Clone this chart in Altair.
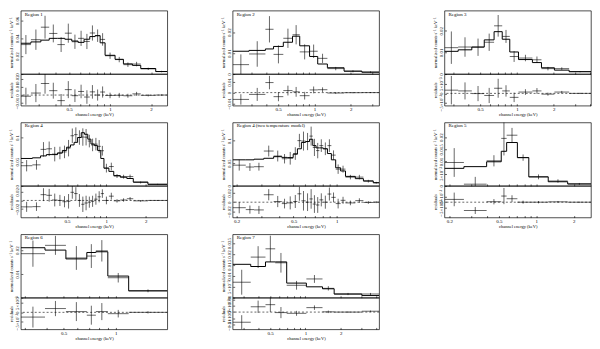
import altair as alt
import pandas as pd

FONT = "Liberation Serif"

titles = ["Region 1", "Region 2", "Region 3", "Region 4",
          "Region 4 (two temperature model)", "Region 5", "Region 6", "Region 7"]

# ---- Region 1 ----
r1_edges = [0.221, 0.262, 0.310, 0.357, 0.410, 0.465, 0.523, 0.582, 0.644, 0.709,
            0.776, 0.845, 0.919, 1.088, 1.253, 1.459, 1.68, 2.165, 2.636]
r1_counts = [0.033, 0.0385, 0.0525, 0.0455, 0.033, 0.0458, 0.0362, 0.040, 0.0365,
             0.046, 0.043, 0.0388, 0.0205, 0.0162, 0.0105, 0.0112, 0.0058, 0.0028]
r1_err = [0.0107, 0.0114, 0.0128, 0.01, 0.0083, 0.0107, 0.008, 0.0085, 0.0085,
          0.0085, 0.007, 0.007, 0.0035, 0.003, 0.0025, 0.0025, 0.0013, 0.0008]
r1_model = [0.0345, 0.036, 0.038, 0.040, 0.040, 0.039, 0.037, 0.0355, 0.039,
            0.042, 0.043, 0.035, 0.021, 0.0165, 0.0114, 0.0097, 0.0062, 0.0028]
r1_xdom = [0.221, 2.636]
r1_ydom = [0, 0.071]
r1_rdom = [-0.0134, 0.0264]
r1_yticks = [0, 0.02, 0.04, 0.06]
r1_rticks = [-0.01, 0, 0.01, 0.02]

# ---- Region 2 ----
r2_edges = [0.21, 0.287, 0.392, 0.458, 0.552, 0.658, 0.755, 0.911, 1.064, 1.28, 1.76, 2.47, 3.44]
r2_counts = [0.0045, 0.0096, 0.0214, 0.0094, 0.0171, 0.0188, 0.0106, 0.0109, 0.0075, 0.0026, 0.0013, 0.0009]
r2_err = [0.0049, 0.0061, 0.0063, 0.0043, 0.0046, 0.0046, 0.0036, 0.0032, 0.0022, 0.0008, 0.0005, 0.0004]
r2_model = [0.0109, 0.0113, 0.012, 0.0132, 0.0152, 0.0181, 0.0135, 0.0084, 0.0048, 0.003, 0.0014, 0.0009]
r2_xdom = [0.21, 3.44]
r2_ydom = [0, 0.0303]
r2_rdom = [-0.0123, 0.0174]
r2_yticks = [0, 0.01, 0.02]
r2_rticks = [-0.01, 0, 0.01]

# ---- Region 3 ----
r3_edges = [0.255, 0.33, 0.427, 0.540, 0.650, 0.758, 0.874, 1.03, 1.34, 1.59, 2.03, 2.68, 4.05]
r3_counts = [0.0122, 0.0125, 0.0124, 0.0147, 0.0223, 0.0174, 0.0081, 0.0074, 0.0066, 0.0025, 0.0025, 0.0011]
r3_err = [0.0075, 0.0045, 0.004, 0.004, 0.005, 0.003, 0.0025, 0.0015, 0.0015, 0.0008, 0.0006, 0.0003]
r3_model = [0.0105, 0.0112, 0.0125, 0.0158, 0.0196, 0.0161, 0.0102, 0.0067, 0.0053, 0.0029, 0.0018, 0.0011]
r3_xdom = [0.255, 4.05]
r3_ydom = [0, 0.0293]
r3_rdom = [-0.0065, 0.0102]
r3_yticks = [0, 0.01, 0.02]
r3_rticks = [-0.005, 0, 0.005]

# ---- Region 4 ----
r4_edges = [0.222, 0.272, 0.314, 0.348, 0.384, 0.423, 0.461, 0.497, 0.532, 0.567, 0.603,
            0.643, 0.680, 0.721, 0.763, 0.808, 0.857, 0.907, 0.959, 1.046, 1.14, 1.279,
            1.435, 1.608, 2.08, 2.93]
r4_counts = [0.0417, 0.0435, 0.0755, 0.0767, 0.0657, 0.068, 0.0703, 0.078, 0.1037, 0.106,
             0.1, 0.101, 0.1007, 0.0927, 0.0847, 0.0863, 0.0818, 0.0727, 0.0367, 0.04,
             0.0203, 0.019, 0.0193, 0.007, 0.0033]
r4_err = [0.0117, 0.01, 0.015, 0.015, 0.015, 0.013, 0.013, 0.017, 0.015, 0.015, 0.015,
          0.018, 0.017, 0.013, 0.013, 0.013, 0.013, 0.01, 0.009, 0.008, 0.004, 0.004,
          0.004, 0.002, 0.001]
r4_model = [0.0567, 0.058, 0.062, 0.0647, 0.0647, 0.068, 0.0733, 0.08, 0.0847, 0.09, 0.1,
            0.11, 0.1067, 0.0967, 0.0867, 0.0833, 0.0733, 0.0567, 0.0367, 0.03, 0.0213,
            0.018, 0.0153, 0.008, 0.0033]
r4_xdom = [0.222, 2.93]
r4_ydom = [0, 0.131]
r4_rdom = [-0.04, 0.034]
r4_yticks = [0, 0.05, 0.1]
r4_rticks = [-0.02, 0, 0.02]

# ---- Region 4 (two temperature model) ----
r4b_edges = [0.188, 0.232, 0.265, 0.310, 0.363, 0.414, 0.452, 0.497, 0.532, 0.567, 0.607,
             0.646, 0.681, 0.718, 0.757, 0.806, 0.862, 0.918, 0.984, 1.065, 1.152, 1.349,
             1.537, 1.80, 1.98]
r4b_counts = [0.0458, 0.0417, 0.0424, 0.077, 0.066, 0.06, 0.061, 0.0715, 0.1, 0.099, 0.098,
              0.11, 0.085, 0.078, 0.089, 0.082, 0.089, 0.068, 0.037, 0.037, 0.0194, 0.0194,
              0.0104, 0.007]
r4b_err = [0.012, 0.0087, 0.0087, 0.012, 0.012, 0.0104, 0.014, 0.014, 0.015, 0.021, 0.019,
           0.021, 0.019, 0.017, 0.014, 0.014, 0.014, 0.0104, 0.0104, 0.0076, 0.005, 0.005,
           0.003, 0.002]
r4b_model = [0.0576, 0.0576, 0.059, 0.061, 0.0646, 0.063, 0.0625, 0.07, 0.082, 0.096, 0.098,
             0.103, 0.089, 0.084, 0.084, 0.082, 0.0715, 0.0576, 0.04, 0.033, 0.021, 0.016,
             0.011, 0.007]
r4b_xdom = [0.188, 1.98]
r4b_ydom = [0, 0.14]
r4b_rdom = [-0.033, 0.035]
r4b_yticks = [0, 0.05, 0.1]
r4b_rticks = [-0.02, 0, 0.02]

# ---- Region 5 ----
r5_edges = [0.183, 0.262, 0.399, 0.523, 0.578, 0.705, 0.871, 1.248, 1.789, 2.755]
r5_counts = [0.0096, 0.0007, 0.0103, 0.0195, 0.0208, 0.0116, 0.0037, 0.002, 0.0008]
r5_err = [0.0059, 0.003, 0.0023, 0.007, 0.003, 0.0013, 0.001, 0.0007, 0.0004]
r5_model = [0.0072, 0.0079, 0.0099, 0.0142, 0.0178, 0.0116, 0.0037, 0.0017, 0.0008]
r5_xdom = [0.183, 2.755]
r5_ydom = [0, 0.026]
r5_rdom = [-0.0133, 0.0141]
r5_yticks = [0, 0.005, 0.01, 0.015, 0.02]
r5_rticks = [-0.005, 0, 0.005]

# ---- Region 6 ----
r6_edges = [0.283, 0.390, 0.515, 0.680, 0.767, 0.899, 1.186, 1.984]
r6_counts = [0.0185, 0.022, 0.0167, 0.0175, 0.0197, 0.0084, 0.0029]
r6_err = [0.0055, 0.004, 0.005, 0.005, 0.0045, 0.002, 0.0006]
r6_model = [0.021, 0.02, 0.0163, 0.019, 0.0193, 0.0091, 0.0029]
r6_xdom = [0.283, 1.984]
r6_ydom = [0, 0.0266]
r6_rdom = [-0.009, 0.0077]
r6_yticks = [0, 0.01, 0.02]
r6_rticks = [-0.005, 0, 0.005]

# ---- Region 7 ----
r7_edges = [0.240, 0.342, 0.457, 0.553, 0.693, 1.02, 1.40, 1.76, 3.03, 4.26]
r7_counts = [0.0071, 0.0186, 0.0224, 0.016, 0.0057, 0.0086, 0.0043, 0.0017, 0.0017]
r7_err = [0.0057, 0.005, 0.006, 0.0045, 0.002, 0.0018, 0.001, 0.0005, 0.0005]
r7_model = [0.0153, 0.0143, 0.0164, 0.0164, 0.0067, 0.005, 0.0041, 0.0017, 0.001]
r7_xdom = [0.240, 4.26]
r7_ydom = [0, 0.029]
r7_rdom = [-0.014, 0.0116]
r7_yticks = [0, 0.005, 0.01, 0.015, 0.02, 0.025]
r7_rticks = [-0.01, -0.005, 0, 0.005, 0.01]

x_ticks = [0.2, 0.3, 0.4, 0.5, 0.6, 0.7, 0.8, 0.9, 1, 2, 3, 4]
x_labeled = [0.2, 0.5, 1, 2]

W, H1, H2 = 148, 64, 32
LW = 0.6

SCI = ("abs(datum.value-0.005)<1e-9 ? '5×10⁻³' : "
       "abs(datum.value+0.005)<1e-9 ? '−5×10⁻³' : datum.label")

def panel(name, edges, counts, err, model, xdom, ydom, rdom, yticks, rticks):
    n = len(counts)
    cen = [(edges[i] * edges[i + 1]) ** 0.5 for i in range(n)]
    res = [counts[i] - model[i] for i in range(n)]
    df = pd.DataFrame({
        "lo": edges[:-1], "hi": edges[1:], "c": cen,
        "y": counts, "ylo": [counts[i] - err[i] for i in range(n)],
        "yhi": [counts[i] + err[i] for i in range(n)],
        "r": res, "rlo": [res[i] - err[i] for i in range(n)],
        "rhi": [res[i] + err[i] for i in range(n)],
    })
    mdf = pd.DataFrame({"e": edges, "m": model + [model[-1]]})
    ticks = [t for t in x_ticks if xdom[0] <= t <= xdom[1]]
    xscale = alt.Scale(type="log", domain=xdom, nice=False)
    ax_top = alt.Axis(values=ticks, labels=False, title=None, tickSize=2, offset=-2,
                      domain=False, grid=False, tickWidth=LW)
    ax_bot = alt.Axis(values=ticks, format="~g", labelOverlap=False,
                      labelExpr="indexof(%s, datum.value) >= 0 ? datum.label : ''" % str(x_labeled),
                      title="channel energy (keV)", tickSize=2, offset=-2, domain=False,
                      grid=False, labelPadding=1, titlePadding=0, tickWidth=LW)
    ay_top = alt.Axis(title="normalized counts s⁻¹ keV⁻¹", values=yticks, format="~g",
                      labelExpr=SCI, labelOverlap=False,
                      labelAngle=270, labelAlign="center", labelBaseline="bottom",
                      tickSize=2, offset=-2, domain=False, grid=False, labelPadding=1,
                      titlePadding=1, tickWidth=LW)
    ay_bot = alt.Axis(title="residuals", values=rticks, format="~g",
                      labelExpr=SCI, labelOverlap=False,
                      labelAngle=270, labelAlign="center", labelBaseline="bottom",
                      tickSize=2, offset=-2, domain=False, grid=False, labelPadding=1,
                      titlePadding=1, tickWidth=LW)
    yscale = alt.Scale(domain=ydom, nice=False, zero=False)
    rscale = alt.Scale(domain=rdom, nice=False, zero=False)

    base = alt.Chart(df)
    line = alt.Chart(mdf).mark_line(interpolate="step-after", color="black",
                                    strokeWidth=1, clip=True).encode(
        x=alt.X("e:Q", scale=xscale, axis=ax_top),
        y=alt.Y("m:Q", scale=yscale, axis=ay_top))
    xerr = base.mark_rule(color="black", strokeWidth=LW, clip=True).encode(
        x=alt.X("lo:Q", scale=xscale, axis=ax_top), x2="hi:Q",
        y=alt.Y("y:Q", scale=yscale, axis=ay_top))
    yerr = base.mark_rule(color="black", strokeWidth=LW, clip=True).encode(
        x=alt.X("c:Q", scale=xscale, axis=ax_top),
        y=alt.Y("ylo:Q", scale=yscale, axis=ay_top), y2="yhi:Q")
    label = alt.Chart(pd.DataFrame({"t": [name]})).mark_text(
        align="left", baseline="top", font=FONT, fontSize=5, color="black").encode(
        x=alt.value(4), y=alt.value(1), text="t:N")
    top = alt.layer(line, xerr, yerr, label).properties(width=W, height=H1)

    zero = alt.Chart(pd.DataFrame({"z": [0]})).mark_rule(
        color="black", strokeWidth=LW, strokeDash=[2, 2]).encode(
        y=alt.Y("z:Q", scale=rscale, axis=ay_bot))
    rx = base.mark_rule(color="black", strokeWidth=LW, clip=True).encode(
        x=alt.X("lo:Q", scale=xscale, axis=ax_bot), x2="hi:Q",
        y=alt.Y("r:Q", scale=rscale, axis=ay_bot))
    ry = base.mark_rule(color="black", strokeWidth=LW, clip=True).encode(
        x=alt.X("c:Q", scale=xscale, axis=ax_bot),
        y=alt.Y("rlo:Q", scale=rscale, axis=ay_bot), y2="rhi:Q")
    bot = alt.layer(zero, rx, ry).properties(width=W, height=H2)
    return alt.vconcat(top, bot, spacing=0, bounds="flush")

p = [
    panel(titles[0], r1_edges, r1_counts, r1_err, r1_model, r1_xdom, r1_ydom, r1_rdom, r1_yticks, r1_rticks),
    panel(titles[1], r2_edges, r2_counts, r2_err, r2_model, r2_xdom, r2_ydom, r2_rdom, r2_yticks, r2_rticks),
    panel(titles[2], r3_edges, r3_counts, r3_err, r3_model, r3_xdom, r3_ydom, r3_rdom, r3_yticks, r3_rticks),
    panel(titles[3], r4_edges, r4_counts, r4_err, r4_model, r4_xdom, r4_ydom, r4_rdom, r4_yticks, r4_rticks),
    panel(titles[4], r4b_edges, r4b_counts, r4b_err, r4b_model, r4b_xdom, r4b_ydom, r4b_rdom, r4b_yticks, r4b_rticks),
    panel(titles[5], r5_edges, r5_counts, r5_err, r5_model, r5_xdom, r5_ydom, r5_rdom, r5_yticks, r5_rticks),
    panel(titles[6], r6_edges, r6_counts, r6_err, r6_model, r6_xdom, r6_ydom, r6_rdom, r6_yticks, r6_rticks),
    panel(titles[7], r7_edges, r7_counts, r7_err, r7_model, r7_xdom, r7_ydom, r7_rdom, r7_yticks, r7_rticks),
]

row1 = alt.hconcat(p[0], p[1], p[2], spacing=52)
row2 = alt.hconcat(p[3], p[4], p[5], spacing=52)
row3 = alt.hconcat(p[6], p[7], spacing=52)

chart = alt.vconcat(row1, row2, row3, spacing=5).properties(
    padding=0, background="white"
).configure_view(
    stroke="black", strokeWidth=0.7
).configure_axis(
    labelFont=FONT, titleFont=FONT, labelFontSize=5, titleFontSize=4.5,
    labelColor="black", titleColor="black", tickColor="black",
    titleFontWeight="normal"
)

chart.save("out.html", embed_options={"renderer": "svg", "actions": False})
